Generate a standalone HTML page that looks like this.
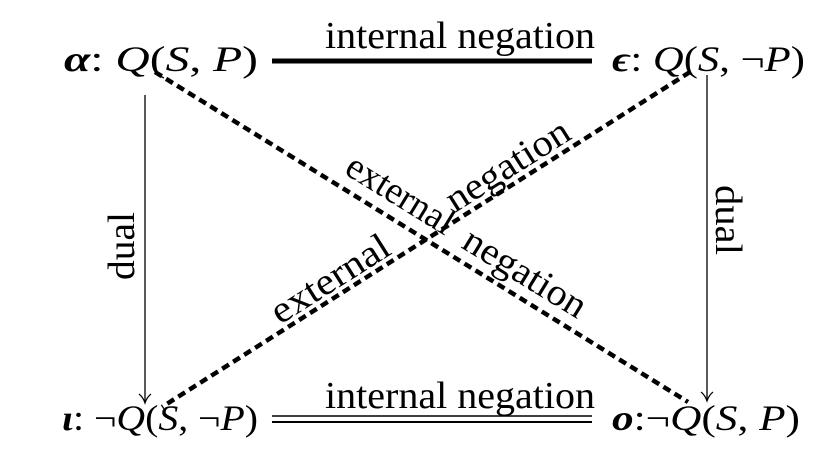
<!DOCTYPE html>
<html><head><meta charset="utf-8"><style>
html,body{margin:0;padding:0;background:#fff;}
svg{display:block;}
text{font-family:"Liberation Serif",serif;fill:#000;}
.m{font-style:italic;font-size:36px;}
.b{font-weight:bold;font-style:italic;}
.n{font-style:normal;}
.l{font-size:38px;}
</style></head><body>
<svg width="830" height="469" viewBox="0 0 830 469" xmlns="http://www.w3.org/2000/svg">
<text class="m" x="64" y="71" textLength="194" lengthAdjust="spacingAndGlyphs"><tspan class="b">α</tspan><tspan class="n">: </tspan>Q<tspan class="n">(</tspan>S<tspan class="n">, </tspan>P<tspan class="n">)</tspan></text>
<text class="m" x="612" y="71" textLength="193" lengthAdjust="spacingAndGlyphs"><tspan class="b">ϵ</tspan><tspan class="n">: </tspan>Q<tspan class="n">(</tspan>S<tspan class="n">, ¬</tspan>P<tspan class="n">)</tspan></text>
<text class="m" x="62" y="430" textLength="196" lengthAdjust="spacingAndGlyphs"><tspan class="b">ι</tspan><tspan class="n">: ¬</tspan>Q<tspan class="n">(</tspan>S<tspan class="n">, ¬</tspan>P<tspan class="n">)</tspan></text>
<text class="m" x="612" y="430" textLength="188" lengthAdjust="spacingAndGlyphs"><tspan class="b">o</tspan><tspan class="n">:¬</tspan>Q<tspan class="n">(</tspan>S<tspan class="n">, </tspan>P<tspan class="n">)</tspan></text>

<line x1="272" y1="61" x2="592" y2="61" stroke="#000" stroke-width="5"/>
<text class="l" x="325" y="48" textLength="270" lengthAdjust="spacingAndGlyphs">internal negation</text>
<line x1="272" y1="416" x2="592" y2="416" stroke="#000" stroke-width="1.5"/>
<line x1="272" y1="422" x2="592" y2="422" stroke="#000" stroke-width="2"/>
<text class="l" x="325" y="408" textLength="270" lengthAdjust="spacingAndGlyphs">internal negation</text>

<line x1="145" y1="95" x2="145" y2="402" stroke="#000" stroke-width="1.3"/>
<path d="M139,394 Q143,397 145,403 Q147,397 151,394" fill="none" stroke="#000" stroke-width="1.2"/>
<line x1="707" y1="75" x2="707" y2="400" stroke="#000" stroke-width="1.3"/>
<path d="M701,392 Q705,395 707,401 Q709,395 713,392" fill="none" stroke="#000" stroke-width="1.2"/>
<text class="l" transform="translate(134,246) rotate(-90)" text-anchor="middle" textLength="68" lengthAdjust="spacingAndGlyphs">dual</text>
<text class="l" transform="translate(716,220) rotate(90)" text-anchor="middle" textLength="70" lengthAdjust="spacingAndGlyphs">dual</text>

<line x1="155" y1="72" x2="688" y2="402" stroke="#000" stroke-width="4.5" stroke-dasharray="8,5"/>
<line x1="690" y1="72" x2="162" y2="407" stroke="#000" stroke-width="4.5" stroke-dasharray="8,5"/>

<text class="l" transform="translate(280,325) rotate(-32.4)" textLength="134" lengthAdjust="spacingAndGlyphs">external</text>
<text class="l" transform="translate(455,213) rotate(-32.4)" textLength="140" lengthAdjust="spacingAndGlyphs">negation</text>
<text class="l" transform="translate(343,173) rotate(31.6)" textLength="120" lengthAdjust="spacingAndGlyphs">external</text>
<text class="l" transform="translate(460,247) rotate(31.6)" textLength="138" lengthAdjust="spacingAndGlyphs">negation</text>
</svg>
</body></html>
